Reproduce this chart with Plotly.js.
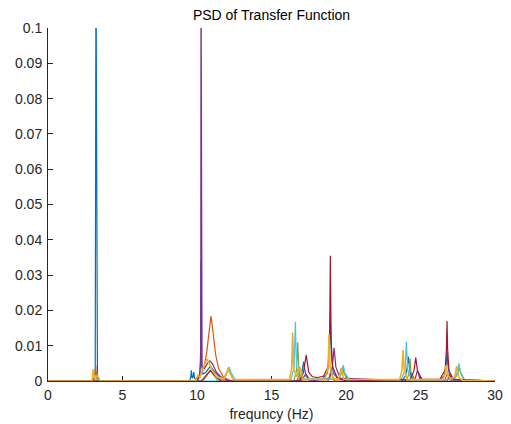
<!DOCTYPE html>
<html>
<head>
<meta charset="utf-8">
<script src="https://cdn.plot.ly/plotly-3.0.1.min.js"></script>
<style>html,body{margin:0;padding:0;background:#fff;}#chart{width:511px;height:424px;}</style>
</head>
<body>
<div id="chart"></div>
<script>
// Tick labels
var xTickVals = [0, 5, 10, 15, 20, 25, 30];
var xTickText = ["0", "5", "10", "15", "20", "25", "30"];
var yTickVals = [0, 0.01, 0.02, 0.03, 0.04, 0.05, 0.06, 0.07, 0.08, 0.09, 0.1];
var yTickText = ["0", "0.01", "0.02", "0.03", "0.04", "0.05", "0.06", "0.07", "0.08", "0.09", "0.1"];

// Series 1 (blue)
var blueX = [0, 3.0, 3.12, 3.17, 3.22, 3.27, 3.32, 3.45, 9.5, 9.58, 9.62, 9.67, 9.72, 9.78, 9.84, 9.95, 10.15, 10.24, 10.27, 10.3, 10.4, 10.6, 10.9, 11.2, 11.6, 12.2, 16.8, 17.0, 17.1, 17.16, 17.22, 17.32, 17.6, 18.4, 18.75, 18.88, 18.95, 19.02, 19.15, 19.5, 23.8, 24.0, 24.1, 24.18, 24.26, 24.36, 24.6, 26.3, 26.6, 26.72, 26.78, 26.84, 26.96, 27.3, 30];
var blueY = [0, 0, 0.0008, 0.0025, 0.12, 0.0025, 0.0008, 0, 0, 0.001, 0.003, 0.001, 0.0008, 0.0025, 0.0008, 0.0004, 0.001, 0.005, 0.034, 0.005, 0.002, 0.0025, 0.0042, 0.0025, 0.0008, 0, 0, 0.0015, 0.0035, 0.0055, 0.0035, 0.0013, 0.0005, 0.0005, 0.0022, 0.0075, 0.0173, 0.0075, 0.0022, 0.0005, 0.0003, 0.0015, 0.0038, 0.0069, 0.0038, 0.0014, 0.0003, 0.0003, 0.0015, 0.0045, 0.0083, 0.0045, 0.0015, 0.0003, 0];

// Series 2 (orange)
var orangeX = [0, 3.05, 3.15, 3.2, 3.25, 3.4, 10.0, 10.2, 10.45, 10.65, 10.8, 10.88, 10.94, 11.0, 11.1, 11.25, 11.45, 11.8, 12.3, 16.7, 16.88, 17.05, 18.8, 19.0, 19.2, 24.3, 24.45, 24.6, 26.6, 26.8, 27.0, 30];
var orangeY = [0, 0, 0.0015, 0.0045, 0.0015, 0, 0, 0.0012, 0.0035, 0.008, 0.0135, 0.0165, 0.0184, 0.0165, 0.0125, 0.0075, 0.0035, 0.001, 0, 0, 0.002, 0, 0, 0.003, 0, 0, 0.002, 0, 0, 0.002, 0, 0];

// Series 4 (purple)
var purpleX = [0, 10.0, 10.2, 10.25, 10.27, 10.29, 10.34, 10.5, 10.7, 10.87, 11.05, 11.3, 11.7, 12.2, 17.0, 17.3, 17.6, 18.9, 19.08, 19.2, 19.32, 19.6, 24.6, 24.8, 25.0, 26.8, 26.95, 27.1, 30];
var purpleY = [0, 0, 0.002, 0.01, 0.12, 0.01, 0.004, 0.0035, 0.005, 0.0057, 0.0048, 0.0025, 0.0008, 0, 0, 0.002, 0, 0.0008, 0.004, 0.0094, 0.004, 0.0008, 0, 0.003, 0, 0, 0.002, 0, 0];

// Series 5 (green)
var greenX = [0, 3.2, 3.3, 3.4, 10.4, 10.9, 11.4, 11.8, 12.0, 12.1, 12.2, 12.45, 16.5, 16.68, 16.76, 16.84, 17.0, 19.5, 19.7, 19.78, 19.86, 20.1, 24.1, 24.24, 24.3, 24.36, 24.5, 27.3, 27.5, 27.6, 27.7, 27.9, 30];
var greenY = [0, 0, 0.002, 0, 0, 0.003, 0, 0.0008, 0.0025, 0.0038, 0.0025, 0.0004, 0, 0.003, 0.011, 0.003, 0.0004, 0.0006, 0.0022, 0.004, 0.0022, 0.0004, 0.0004, 0.0025, 0.0064, 0.0025, 0.0004, 0.0005, 0.0022, 0.004, 0.0022, 0.0004, 0];

// Series 6 (light blue)
var lightBlueX = [0, 11.8, 12.02, 12.15, 12.28, 12.55, 16.3, 16.52, 16.6, 16.68, 16.9, 19.5, 19.72, 19.82, 19.92, 20.2, 23.7, 23.96, 24.05, 24.14, 24.4, 27.2, 27.48, 27.58, 27.68, 27.95, 30];
var lightBlueY = [0, 0, 0.0025, 0.004, 0.0025, 0.0004, 0.0004, 0.004, 0.0168, 0.004, 0.0006, 0.0006, 0.0024, 0.0045, 0.0024, 0.0004, 0.0004, 0.003, 0.0111, 0.003, 0.0004, 0.0004, 0.0026, 0.005, 0.0026, 0.0004, 0];

// Series 7 (dark red)
var redX = [0, 10.3, 10.6, 10.9, 11.2, 11.6, 16.9, 17.15, 17.33, 17.5, 17.75, 18.1, 18.5, 18.8, 18.9, 18.95, 19.0, 19.1, 19.4, 20.0, 24.3, 24.56, 24.68, 24.8, 25.1, 26.3, 26.65, 26.74, 26.78, 26.82, 26.91, 27.2, 30];
var redY = [0, 0, 0.0015, 0.003, 0.0015, 0, 0, 0.0025, 0.0074, 0.0025, 0.0012, 0.001, 0.0014, 0.004, 0.012, 0.0355, 0.012, 0.004, 0.001, 0, 0.0005, 0.0028, 0.0066, 0.0028, 0.0005, 0.0005, 0.003, 0.009, 0.017, 0.009, 0.003, 0.0005, 0];

// Series 3 (yellow)
var yellowX = [0, 2.95, 3.04, 3.1, 3.2, 3.4, 3.5, 9.9, 10.07, 10.2, 10.4, 10.55, 10.67, 10.8, 11.0, 11.3, 11.8, 12.0, 12.1, 12.2, 12.45, 16.2, 16.35, 16.42, 16.49, 16.7, 16.9, 17.1, 18.6, 18.8, 18.86, 18.93, 19.1, 19.5, 19.67, 19.85, 23.6, 23.75, 23.83, 23.91, 24.1, 26.5, 26.65, 26.72, 26.8, 27.0, 27.3, 27.43, 27.56, 27.8, 30];
var yellowY = [0, 0, 0.0034, 0.001, 0.0015, 0.001, 0, 0, 0.0017, 0.001, 0.0035, 0.0052, 0.0062, 0.0052, 0.0032, 0.0012, 0.0006, 0.0022, 0.0036, 0.0022, 0.0004, 0.0004, 0.0035, 0.0137, 0.0035, 0.0012, 0.004, 0.0005, 0.0005, 0.004, 0.0133, 0.004, 0.0008, 0.0005, 0.0037, 0.0005, 0.0004, 0.003, 0.0088, 0.003, 0.0004, 0.0004, 0.002, 0.0045, 0.002, 0.0006, 0.0012, 0.0042, 0.0012, 0.0002, 0];

function tr(x, y, color, w) {
  return {x: x, y: y, type: 'scatter', mode: 'lines', line: {color: color, width: w}, hoverinfo: 'skip'};
}

var data = [
  tr(blueX, blueY, '#0072BD', 1.2),
  tr(orangeX, orangeY, '#D95319', 1.2),
  tr(purpleX, purpleY, '#7E2F8E', 1.2),
  tr(greenX, greenY, '#77AC30', 1.2),
  tr(lightBlueX, lightBlueY, '#4DBEEE', 1.2),
  tr(redX, redY, '#A2142F', 1.2),
  tr(yellowX, yellowY, '#EDB120', 1.6)
];

var axFont = {family: '"Liberation Sans", Arial, Helvetica, sans-serif', size: 14, color: '#262626'};

var layout = {
  width: 511, height: 424,
  margin: {l: 48, r: 16, t: 28, b: 43, pad: 0},
  paper_bgcolor: '#ffffff', plot_bgcolor: '#ffffff',
  showlegend: false,
  font: axFont,
  title: {text: 'PSD of Transfer Function', font: {family: axFont.family, size: 14, color: '#000000'},
          x: 0.5, xref: 'paper', xanchor: 'center', y: 1 - 15 / 424, yref: 'container', yanchor: 'middle'},
  xaxis: {
    range: [0, 30], tickvals: xTickVals, ticktext: xTickText,
    ticks: 'inside', ticklen: 5, tickwidth: 1, tickcolor: '#262626',
    showline: true, linecolor: '#262626', linewidth: 1, mirror: false,
    showgrid: false, zeroline: false, layer: 'below traces',
    tickfont: axFont, ticklabelstandoff: 1,
    title: {text: 'frequncy (Hz)', font: axFont, standoff: 7},
    automargin: false, fixedrange: true
  },
  yaxis: {
    range: [0, 0.1], tickvals: yTickVals, ticktext: yTickText,
    ticks: 'inside', ticklen: 5, tickwidth: 1, tickcolor: '#262626',
    showline: true, linecolor: '#262626', linewidth: 1, mirror: false,
    showgrid: false, zeroline: false, layer: 'below traces',
    tickfont: axFont, ticklabelstandoff: 2, automargin: false, fixedrange: true
  }
};

Plotly.newPlot('chart', data, layout, {staticPlot: true, displayModeBar: false});
</script>
</body>
</html>
